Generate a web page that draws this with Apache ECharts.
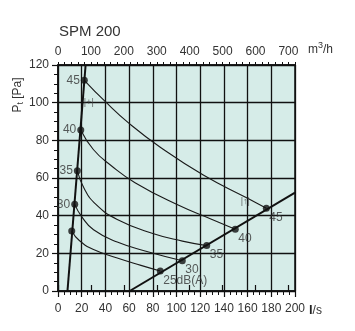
<!DOCTYPE html>
<html>
<head>
<meta charset="utf-8">
<script src="https://cdn.jsdelivr.net/npm/echarts@6/dist/echarts.min.js"></script>
<style>
html,body{margin:0;padding:0;background:#fff;}
#chart{width:355px;height:331px;}
</style>
</head>
<body>
<div id="chart"></div>
<script>
// ---- data (l/s, Pa) ----
var xTicksLs = [0,20,40,60,80,100,120,140,160,180,200];
var yTicks = [0,20,40,60,80,100,120];
var topTicksM3h = [0,100,200,300,400,500,600,700];

var leftLimit = [[8,0],[23.3,120]];
var rightLimit = [[60.5,0],[200,52.2]];

var curve45 = [[22.2,111.9],[40,100.5],[60,89],[86,76.5],[122.6,61.6],[160,49.2],[175.8,43.9]];
var curve40 = [[19.2,85.5],[30,75],[45,66.5],[65,57.5],[100,46],[130,38],[149.6,32.8]];
var curve35 = [[16.3,63.9],[22,54.5],[32,46],[50,38],[80,30.5],[105,26.5],[125.5,24.1]];
var curve30 = [[14.1,46],[20,39.5],[30,32.5],[50,26],[75,21],[104.9,16.1]];
var curve25 = [[11.6,31.9],[18,26.8],[30,22],[50,17.5],[70,13.6],[86.3,10.6]];

var leftDots = [[22.2,111.9],[19.2,85.5],[16.3,63.9],[14.1,46],[11.6,31.9]];
var leftDotLabels = ['45','40','35','30',''];
var rightDots = [[86.3,10.6],[104.9,16.1],[125.5,24.1],[149.6,32.8],[175.8,43.9]];
var rightDotLabels = ['25dB(A)','30','35','40','45'];

var markerTexts = [{v:[26,100],t:'|+|'},{v:[158,47.5],t:'|↑|'}];

var chart = echarts.init(document.getElementById('chart'), null, {renderer:'canvas'});
var ink = '#111';
var txt = '#333';
var fontFam = 'Liberation Sans, Arial, sans-serif';

function curveSeries(d){
  return {type:'line', xAxisIndex:0, yAxisIndex:0, data:d, smooth:0.5, symbol:'none',
    lineStyle:{color:'#1a1a1a', width:1.1}, z:3, silent:true};
}

var option = {
  animation:false,
  backgroundColor:'#fff',
  textStyle:{fontFamily:fontFam},
  title:{text:'SPM 200', left:54, top:19, textStyle:{fontSize:15, fontWeight:'normal', color:txt, fontFamily:fontFam}},
  grid:{left:58, right:60, top:65, bottom:40, show:true, backgroundColor:'#d6ece8', borderColor:ink, borderWidth:1.5},
  xAxis:[
    {type:'value', position:'bottom', min:0, max:200, interval:20,
     axisLine:{show:true, onZero:false, lineStyle:{color:ink, width:1.5}},
     axisTick:{show:true, length:6, lineStyle:{color:ink, width:1.2}},
     minorTick:{show:true, splitNumber:4, length:4, lineStyle:{color:ink, width:1}},
     splitLine:{show:true, lineStyle:{color:ink, width:1.3}},
     axisLabel:{color:txt, fontSize:12, margin:12, fontFamily:fontFam,
       customValues:xTicksLs}},
    {type:'value', position:'top', min:0, max:720, interval:20,
     axisLine:{show:true, onZero:false, lineStyle:{color:ink, width:1.5}},
     axisTick:{show:true, length:3, lineStyle:{color:ink, width:1}},
     splitLine:{show:false}, axisLabel:{show:false}},
    {type:'value', position:'top', min:0, max:720, interval:100,
     axisLine:{show:false},
     axisTick:{show:true, length:6, lineStyle:{color:ink, width:1.2}, customValues:topTicksM3h},
     splitLine:{show:false},
     axisLabel:{color:txt, fontSize:12, margin:7, fontFamily:fontFam, customValues:topTicksM3h}}
  ],
  yAxis:[
    {type:'value', min:0, max:120, interval:20,
     axisLine:{show:true, onZero:false, lineStyle:{color:ink, width:1.5}},
     axisTick:{show:true, length:6, lineStyle:{color:ink, width:1.2}},
     minorTick:{show:true, splitNumber:4, length:4, lineStyle:{color:ink, width:1}},
     splitLine:{show:true, lineStyle:{color:ink, width:1.3}},
     axisLabel:{color:txt, fontSize:12, margin:9, fontFamily:fontFam, customValues:yTicks}}
  ],
  series:[
    curveSeries(curve45), curveSeries(curve40), curveSeries(curve35), curveSeries(curve30), curveSeries(curve25),
    {type:'line', data:leftLimit, symbol:'none', lineStyle:{color:ink, width:2}, z:4, silent:true},
    {type:'line', data:rightLimit, symbol:'none', lineStyle:{color:ink, width:2}, z:4, silent:true},
    {type:'scatter', data:leftDots.map(function(p,i){return {value:p, name:leftDotLabels[i]};}),
     symbolSize:7, itemStyle:{color:ink}, z:5,
     label:{show:true, position:'left', distance:1, color:txt, fontSize:12, fontFamily:fontFam,
       formatter:function(p){return p.name;}}},
    {type:'scatter', data:rightDots.map(function(p,i){return {value:p, name:rightDotLabels[i]};}),
     symbolSize:7, itemStyle:{color:ink}, z:5,
     label:{show:true, position:'bottom', align:'left', offset:[3,-5], color:txt, fontSize:12, fontFamily:fontFam,
       formatter:function(p){return p.name;}}},
    {type:'scatter', data:markerTexts.map(function(m){return {value:m.v, name:m.t};}),
     symbolSize:0, z:5,
     label:{show:true, position:'inside', color:'#444', fontSize:9, fontFamily:fontFam,
       formatter:function(p){return p.name;}}}
  ],
  graphic:[
    {type:'text', left:308, top:41, style:{
      text:'{a|m}{s|3}{a|/h}', fill:txt,
      rich:{a:{fontSize:12, fontFamily:fontFam, fill:txt, verticalAlign:'bottom'},
            s:{fontSize:9, fontFamily:fontFam, fill:txt, verticalAlign:'top', padding:[0,0,6,0]}}}},
    {type:'text', left:309, top:304, style:{
      text:'{b|l}{a|/s}', fill:txt,
      rich:{b:{fontSize:13, fontWeight:'bold', fontFamily:fontFam, fill:'#222'},
            a:{fontSize:12, fontFamily:fontFam, fill:txt}}}},
    {type:'text', x:18, y:95, rotation:Math.PI/2, style:{
      text:'{a|P}{s|t}{a| [Pa]}', align:'center', verticalAlign:'middle', fill:txt,
      rich:{a:{fontSize:12, fontFamily:fontFam, fill:txt},
            s:{fontSize:9, fontFamily:fontFam, fill:txt, verticalAlign:'bottom', padding:[6,0,0,0]}}}}
  ]
};
chart.setOption(option);
</script>
</body>
</html>
